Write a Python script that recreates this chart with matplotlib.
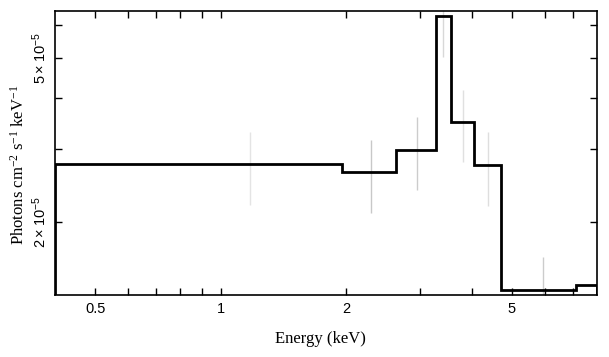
import numpy as np
import matplotlib
matplotlib.use("Agg")
import matplotlib.pyplot as plt
from matplotlib.ticker import FixedLocator, NullFormatter, FixedFormatter

plt.rcParams["mathtext.default"] = "regular"

# model step spectrum (bin edges in keV, flux per bin)
edges = [0.4, 1.956, 2.64, 3.29, 3.57, 4.06, 4.71, 7.13, 8.0]
model = [2.76e-5, 2.64e-5, 2.99e-5, 6.32e-5, 3.49e-5, 2.75e-5, 1.37e-5, 1.41e-5]

# data error bars (grey vertical lines)
err_e = [1.176, 2.297, 2.96, 3.42, 3.81, 4.38, 5.92]
err_lo = [2.20e-5, 2.10e-5, 2.39e-5, 5.03e-5, 2.80e-5, 2.19e-5, 1.0e-5]
err_hi = [3.30e-5, 3.16e-5, 3.60e-5, 7.0e-5, 4.19e-5, 3.30e-5, 1.64e-5]
err_col = ["#e4e4e4", "#c8c8c8", "#cccccc", "#d8d8d8", "#e0e0e0", "#dedede", "#cccccc"]

xmajor = [0.5, 1, 2, 5]
xminor = [0.6, 0.7, 0.8, 0.9, 3, 4, 6, 7]
ymajor = [2e-5, 5e-5]
yminor = [3e-5, 4e-5, 6e-5]
ylabels = [r"$2\times10^{-5}$", r"$5\times10^{-5}$"]

fig = plt.figure(figsize=(6.09, 3.57), dpi=100)
ax = fig.add_axes([55/609, 1-295/357, 542/609, 284/357])

ax.set_xscale("log")
ax.set_yscale("log")
ax.set_xlim(0.4, 8.0)
ax.set_ylim(1.33e-5, 6.5e-5)

ax.vlines(err_e, err_lo, err_hi, colors=err_col, linewidth=1.0, zorder=1)
ax.stairs(model, edges, baseline=1e-5, color="black", linewidth=2.0, zorder=2)

ax.xaxis.set_major_locator(FixedLocator(xmajor))
ax.xaxis.set_minor_locator(FixedLocator(xminor))
ax.xaxis.set_major_formatter(FixedFormatter(["0.5", "1", "2", "5"]))
ax.xaxis.set_minor_formatter(NullFormatter())
ax.yaxis.set_major_locator(FixedLocator(ymajor))
ax.yaxis.set_minor_locator(FixedLocator(yminor))
ax.yaxis.set_major_formatter(FixedFormatter(ylabels))
ax.yaxis.set_minor_formatter(NullFormatter())

ax.tick_params(which="both", direction="in", top=True, right=True,
               length=5, width=1.0, color="black")
for lab in ax.get_xticklabels():
    lab.set_family("Liberation Sans")
    lab.set_fontsize(10.5)
for lab in ax.get_yticklabels():
    lab.set_family("Liberation Sans")
    lab.set_fontsize(10.5)
    lab.set_rotation(90)
    lab.set_va("center")
ax.tick_params(axis="x", pad=5)
ax.tick_params(axis="y", pad=4)

for s in ax.spines.values():
    s.set_linewidth(1.2)

ax.set_xlabel("Energy (keV)", family="Liberation Serif", fontsize=12)
ax.set_ylabel(r"Photons cm$^{-2}$ s$^{-1}$ keV$^{-1}$", family="Liberation Serif",
              fontsize=12)
ax.xaxis.set_label_coords(0.49, -0.127)
ax.yaxis.set_label_coords(-0.05, 0.46)

fig.savefig("out.png", dpi=100)
